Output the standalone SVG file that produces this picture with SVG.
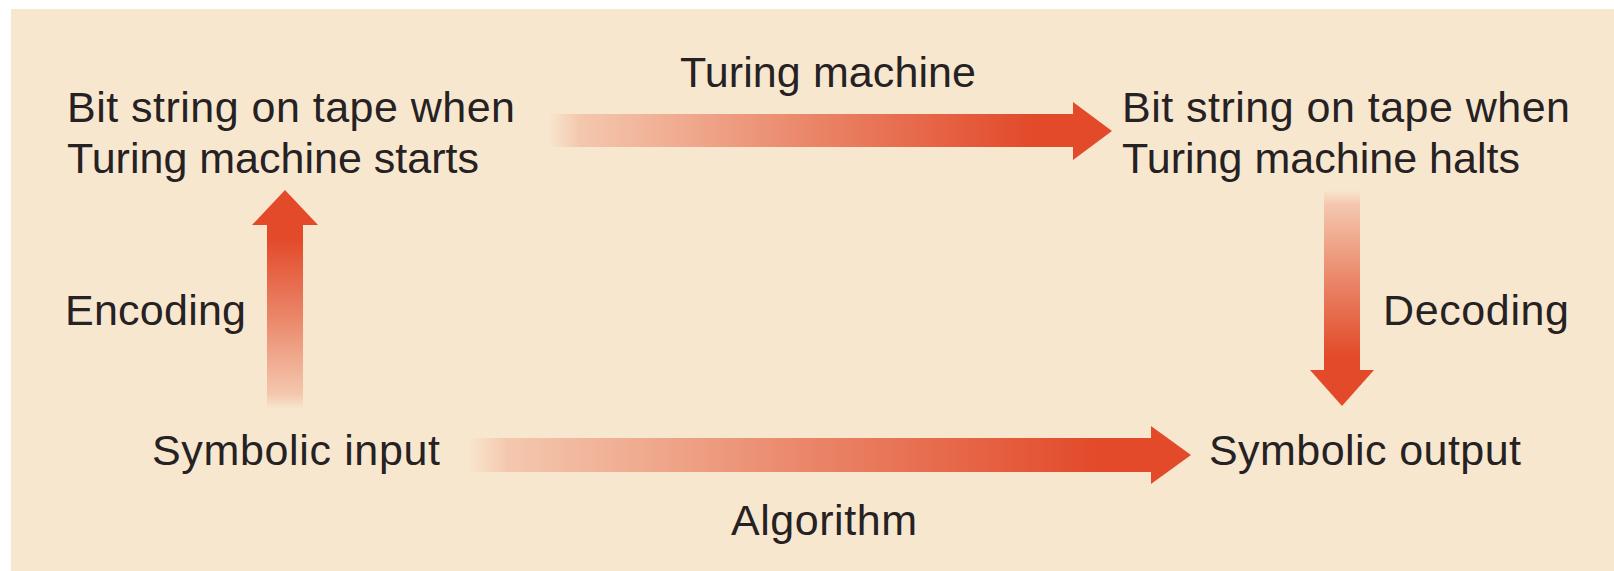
<svg xmlns="http://www.w3.org/2000/svg" width="1614" height="571" viewBox="0 0 1614 571">
  <style>
    .lbl { font-family: "Liberation Sans", Arial, sans-serif; font-size: 43px; fill: #262122; }
    .head { fill: #E24A2A; }
  </style>
  <defs>
    <linearGradient id="gRight" x1="0" y1="0" x2="1" y2="0">
      <stop offset="0" stop-color="#E24A2A" stop-opacity="0"/>
      <stop offset="0.06" stop-color="#E24A2A" stop-opacity="0.2"/>
      <stop offset="0.5" stop-color="#E24A2A" stop-opacity="0.62"/>
      <stop offset="0.92" stop-color="#E24A2A" stop-opacity="1"/>
      <stop offset="1" stop-color="#E24A2A" stop-opacity="1"/>
    </linearGradient>
    <linearGradient id="gUp" x1="0" y1="1" x2="0" y2="0">
      <stop offset="0" stop-color="#E24A2A" stop-opacity="0"/>
      <stop offset="0.08" stop-color="#E24A2A" stop-opacity="0.2"/>
      <stop offset="0.5" stop-color="#E24A2A" stop-opacity="0.62"/>
      <stop offset="0.92" stop-color="#E24A2A" stop-opacity="1"/>
      <stop offset="1" stop-color="#E24A2A" stop-opacity="1"/>
    </linearGradient>
    <linearGradient id="gDown" x1="0" y1="0" x2="0" y2="1">
      <stop offset="0" stop-color="#E24A2A" stop-opacity="0"/>
      <stop offset="0.08" stop-color="#E24A2A" stop-opacity="0.2"/>
      <stop offset="0.5" stop-color="#E24A2A" stop-opacity="0.62"/>
      <stop offset="0.92" stop-color="#E24A2A" stop-opacity="1"/>
      <stop offset="1" stop-color="#E24A2A" stop-opacity="1"/>
    </linearGradient>
  </defs>

  <rect x="0" y="0" width="1614" height="571" fill="#FFFFFF"/>
  <rect x="11" y="9" width="1603" height="562" fill="#F8E7CF"/>

  <g id="connectors">
    <g id="arrow-turing">
      <rect x="548" y="114" width="526" height="33" fill="url(#gRight)"/>
      <polygon class="head" points="1073,102 1112,131 1073,160"/>
    </g>
    <g id="arrow-algorithm">
      <rect x="467" y="438" width="685" height="34" fill="url(#gRight)"/>
      <polygon class="head" points="1151,426 1191,455 1151,484"/>
    </g>
    <g id="arrow-encoding">
      <rect x="267" y="224" width="36" height="185" fill="url(#gUp)"/>
      <polygon class="head" points="252,225 285,190 318,225"/>
    </g>
    <g id="arrow-decoding">
      <rect x="1324" y="190" width="36" height="181" fill="url(#gDown)"/>
      <polygon class="head" points="1310,370 1342,406 1374,370"/>
    </g>
    <text class="lbl" x="680" y="87" textLength="296" lengthAdjust="spacing">Turing machine</text>
    <text class="lbl" x="731" y="535" textLength="186" lengthAdjust="spacing">Algorithm</text>
    <text class="lbl" x="65" y="325" textLength="181" lengthAdjust="spacing">Encoding</text>
    <text class="lbl" x="1383" y="325" textLength="186" lengthAdjust="spacing">Decoding</text>
  </g>

  <g id="node-start">
    <text class="lbl" x="67" y="122" textLength="448" lengthAdjust="spacing">Bit string on tape when</text>
    <text class="lbl" x="67" y="173" textLength="412" lengthAdjust="spacing">Turing machine starts</text>
  </g>
  <g id="node-halt">
    <text class="lbl" x="1122" y="122" textLength="448" lengthAdjust="spacing">Bit string on tape when</text>
    <text class="lbl" x="1122" y="173" textLength="398" lengthAdjust="spacing">Turing machine halts</text>
  </g>
  <g id="node-input">
    <text class="lbl" x="152" y="465" textLength="288" lengthAdjust="spacing">Symbolic input</text>
  </g>
  <g id="node-output">
    <text class="lbl" x="1209" y="465" textLength="312" lengthAdjust="spacing">Symbolic output</text>
  </g>
</svg>
